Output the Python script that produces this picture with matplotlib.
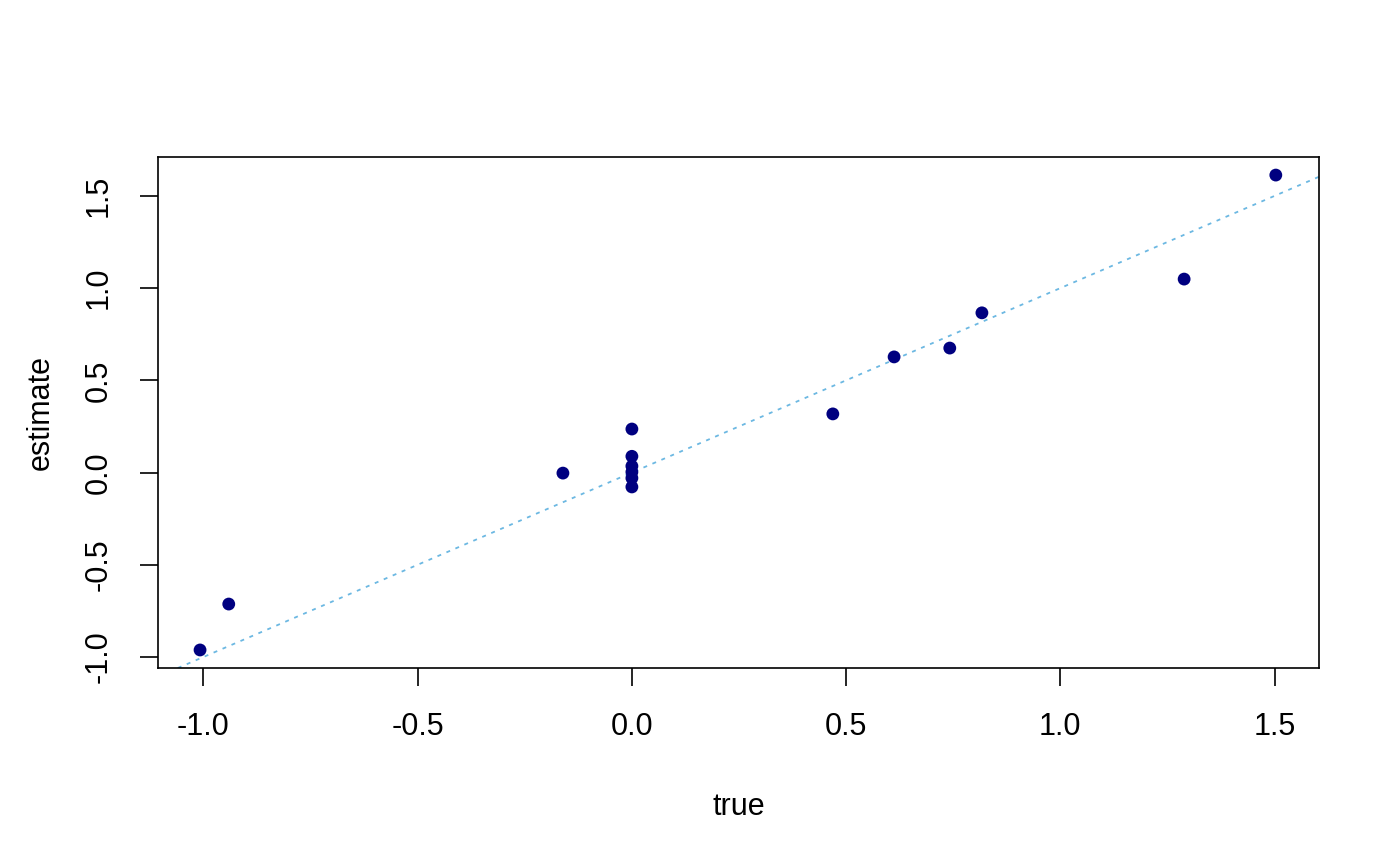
import numpy as np
import matplotlib
matplotlib.use('Agg')
import matplotlib.pyplot as plt

plt.rcParams['font.family'] = ['Liberation Sans', 'DejaVu Sans']

# true vs estimated coefficients
true_vals = [-1.008, -0.941, -0.161, 0.0, 0.0, 0.0, 0.0, 0.0, 0.0,
             0.469, 0.612, 0.742, 0.817, 1.289, 1.503]
est_vals = [-0.962, -0.713, -0.003, 0.236, 0.088, 0.035, 0.003, -0.030, -0.078,
            0.318, 0.627, 0.675, 0.866, 1.049, 1.613]
tick_vals = [-1.0, -0.5, 0.0, 0.5, 1.0, 1.5]
tick_labels = ['-1.0', '-0.5', '0.0', '0.5', '1.0', '1.5']

fig = plt.figure(figsize=(14, 8.65), dpi=100)
ax = fig.add_axes([0.1129, 0.2277, 0.8293, 0.5908])

ax.scatter(true_vals, est_vals, s=85, color='#000080', edgecolors='none', zorder=3)
ax.axline((0, 0), slope=1, color='#6CB8E2', linestyle=(0, (2.2, 3.2)), linewidth=1.3, zorder=2)

ax.set_xlim(-1.106, 1.604)
ax.set_ylim(-1.06, 1.711)
ax.set_xticks(tick_vals)
ax.set_xticklabels(tick_labels)
ax.set_yticks(tick_vals)
ax.set_yticklabels(tick_labels, rotation=90, va='center')

ax.tick_params(axis='both', labelsize=22, length=13, width=1.2, pad=19, color='black')
for side in ['top', 'right', 'bottom', 'left']:
    ax.spines[side].set_linewidth(1.2)

ax.set_xlabel('true', fontsize=22, labelpad=36)
ax.set_ylabel('estimate', fontsize=22, labelpad=20)

fig.savefig('out.png', dpi=100)
